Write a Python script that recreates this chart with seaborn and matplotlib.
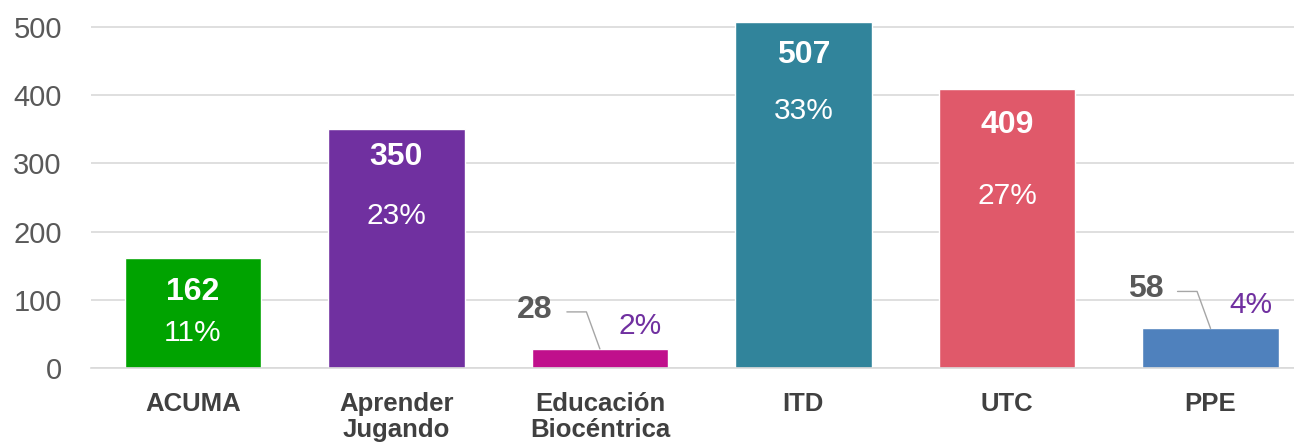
import matplotlib
matplotlib.use("Agg")
import matplotlib.pyplot as plt
import seaborn as sns
import pandas as pd

# data
categories = ["ACUMA", "Aprender\nJugando", "Educación\nBiocéntrica", "ITD", "UTC", "PPE"]
counts = [162, 350, 28, 507, 409, 58]
percents = ["11%", "23%", "2%", "33%", "27%", "4%"]
colors = ["#00A300", "#7030A0", "#C0108C", "#31849B", "#E0596A", "#4F81BD"]

# label offsets below bar top (pixels), None = outside with leader line
val_offset = [34, 28, None, 33, 36, None]
pct_offset = [75, 87, None, 89, 107, None]

df = pd.DataFrame({"cat": categories, "n": counts})

sns.set_theme(style="white")
plt.rcParams["font.family"] = ["Liberation Sans", "DejaVu Sans"]

fig = plt.figure(figsize=(12.94, 4.45), dpi=100)
ax = fig.add_axes([91 / 1294, 77 / 445, 1203 / 1294, 354.6 / 445])

sns.barplot(data=df, x="cat", y="n", hue="cat", palette=colors, legend=False,
            width=0.67, saturation=1, ax=ax)

ax.set_ylim(0, 520)
ax.set_xlim(-0.5, 5.41)
ax.set_yticks([0, 100, 200, 300, 400, 500])
ax.yaxis.grid(True, color="#D9D9D9", lw=1.2)
ax.set_axisbelow(True)
for s in ["top", "right", "left"]:
    ax.spines[s].set_visible(False)
ax.spines["bottom"].set_color("#D9D9D9")
ax.spines["bottom"].set_linewidth(1.2)
ax.set_xlabel("")
ax.set_ylabel("")
ax.tick_params(axis="y", length=0, pad=21, labelsize=21, labelcolor="#595959")
ax.tick_params(axis="x", length=0, pad=17, labelsize=18.5, labelcolor="#404040")
for t in ax.get_xticklabels():
    t.set_fontweight("bold")
    t.set_linespacing(1.12)

px = 72 / 100  # points per pixel
for i, (n, p, voff, poff) in enumerate(zip(counts, percents, val_offset, pct_offset)):
    if voff is not None:
        ax.annotate(str(n), (i, n), xytext=(0, -voff * px), textcoords="offset points",
                    ha="center", va="center", color="white", fontsize=23, fontweight="bold")
        ax.annotate(p, (i, n), xytext=(0, -poff * px), textcoords="offset points",
                    ha="center", va="center", color="white", fontsize=21.5)
    else:
        # value label up-left with leader line, percent up-right
        ax.annotate(str(n), (i, n), xytext=(-65 * px, 39 * px), textcoords="offset points",
                    ha="center", va="center", color="#595959", fontsize=23, fontweight="bold")
        ax.annotate("", (i, n), xytext=(-33 * px, 37 * px), textcoords="offset points",
                    arrowprops=dict(arrowstyle="-", color="#A6A6A6", lw=1,
                                    connectionstyle="angle,angleA=0,angleB=110,rad=0",
                                    shrinkA=0, shrinkB=0))
        ax.annotate(p, (i, n), xytext=(40 * px, 23 * px), textcoords="offset points",
                    ha="center", va="center", color="#7030A0", fontsize=21.5)

fig.savefig("out.png", dpi=100)
